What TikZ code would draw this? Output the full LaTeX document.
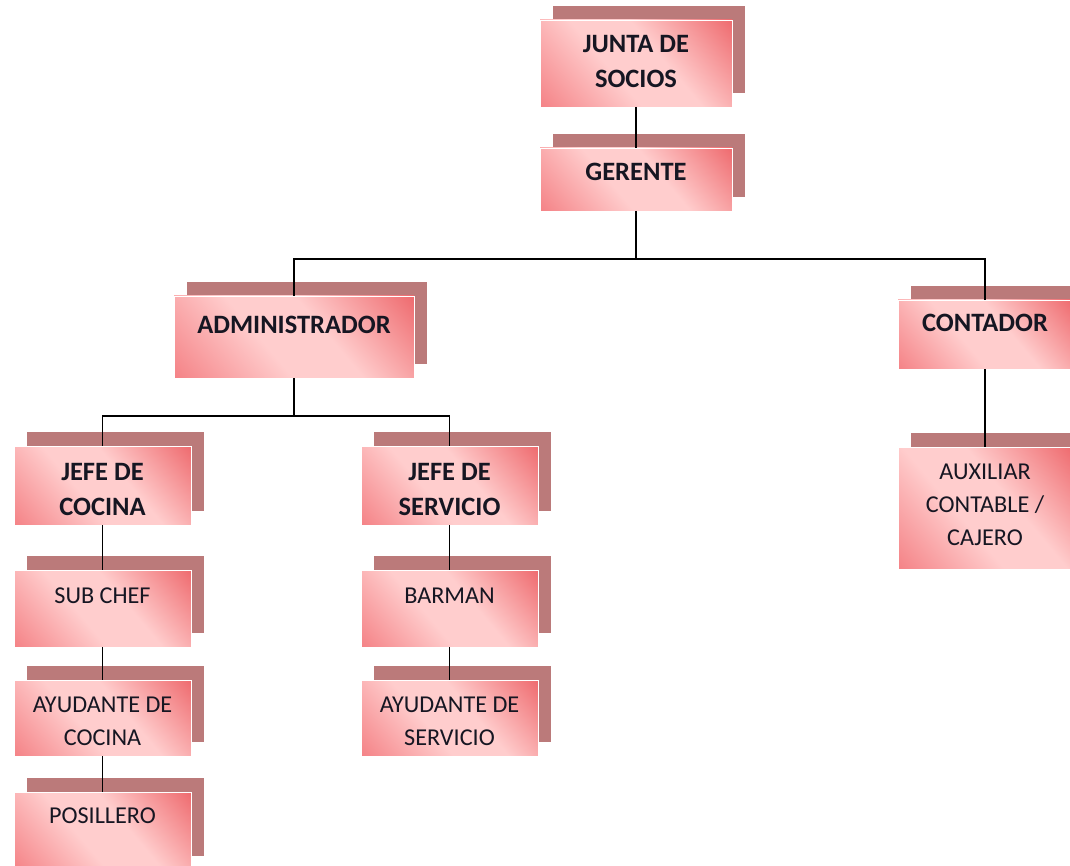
\documentclass[tikz,border=0pt]{standalone}
\usepackage{fontspec}
\setmainfont{Carlito}
\definecolor{shadowfill}{RGB}{187,122,122}
\definecolor{redA}{RGB}{238,104,108}
\definecolor{redB}{RGB}{244,128,132}
\definecolor{pinkmid}{RGB}{255,205,205}
\definecolor{ink}{RGB}{22,22,34}
% soft pink band between two red corners
\pgfdeclareverticalshading{pinkbox}{100bp}{%
  color(0bp)=(redB); color(14bp)=(redB); color(42bp)=(pinkmid);
  color(58bp)=(pinkmid); color(86bp)=(redA); color(100bp)=(redA)}
\tikzset{
  frontbox/.style={shade, shading=pinkbox, shading angle=-50,
    draw=white, line width=0.8pt, inner sep=0pt, outer sep=0pt},
  boldtxt/.style={font=\fontsize{26.5}{35}\selectfont\bfseries, text=ink, align=center, inner sep=0pt},
  plaintxt/.style={font=\fontsize{24.2}{33}\selectfont, text=ink, align=center, inner sep=0pt},
  link/.style={draw=black, line width=1.8pt}
}
% #1 text style, #2 name, #3-#6 left/top/right/bottom, #7 text centre y, #8 text
\newcommand\orgbox[8][boldtxt]{%
  \fill[shadowfill] ({#3+13},{#4-14}) rectangle ({#5+13},{#6-14});
  \node[frontbox, minimum width={#5-#3}, minimum height={#6-#4}] (#2) at ({(#3+#5)/2},{(#4+#6)/2}) {};
  \node[#1] (#2-t) at ({(#3+#5)/2},#7) {#8};
}
\begin{document}
\begin{tikzpicture}[x=1pt, y=-1pt]
  \useasboundingbox (0,0) rectangle (1070,866);
  \clip (0,0) rectangle (1070,866);
  % top of the chart
  \orgbox{junta}{540}{20}{732}{107}{61.5}{JUNTA DE\\SOCIOS}
  \orgbox{ger}{540}{148}{732}{211}{172}{GERENTE}
  % second level
  \orgbox{adm}{174}{296}{414}{378}{325}{ADMINISTRADOR}
  \orgbox{cont}{898}{300}{1072}{369}{323}{CONTADOR}
  \orgbox[plaintxt]{aux}{898}{447}{1072}{569}{505}{AUXILIAR\\CONTABLE /\\CAJERO}
  % kitchen branch
  \orgbox{jcoc}{14}{446}{191}{525}{489}{JEFE DE\\COCINA}
  \orgbox[plaintxt]{sub}{14}{570}{191}{647}{596}{SUB CHEF}
  \orgbox[plaintxt]{aycoc}{14}{680}{191}{756}{721.5}{AYUDANTE DE\\COCINA}
  \orgbox[plaintxt]{pos}{14}{792}{191}{870}{816}{POSILLERO}
  % service branch
  \orgbox{jser}{361}{446}{538}{525}{489}{JEFE DE\\SERVICIO}
  \orgbox[plaintxt]{bar}{361}{570}{538}{647}{596}{BARMAN}
  \orgbox[plaintxt]{ayser}{361}{680}{538}{756}{721.5}{AYUDANTE DE\\SERVICIO}
  % connectors
  \coordinate (busA) at (0,259);
  \coordinate (busB) at (0,416);
  \draw[link] (junta.south) -- (ger.north);
  \draw[link] (ger.south) -- (ger.south |- busA) -| (adm.north);
  \draw[link] (ger.south |- busA) -| (cont.north);
  \draw[link] (cont.south) -- (aux.north);
  \draw[link] (adm.south) -- (adm.south |- busB) -| (jcoc.north);
  \draw[link] (adm.south |- busB) -| (jser.north);
  \draw[link] (jcoc.south) -- (sub.north);
  \draw[link] (sub.south) -- (aycoc.north);
  \draw[link] (aycoc.south) -- (pos.north);
  \draw[link] (jser.south) -- (bar.north);
  \draw[link] (bar.south) -- (ayser.north);
\end{tikzpicture}
\end{document}
